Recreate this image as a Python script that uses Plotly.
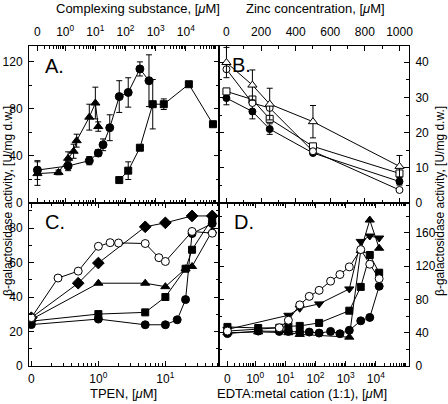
import plotly.graph_objects as go

# ---------------- data ----------------
# Panel A: complexing substance (uM, 0 = control)
A_tri_x = [0, 0.6, 1.25, 1.9, 2.4, 6.3, 10, 12.5]
A_tri_y = [25, 26, 38, 44, 53, 73, 85, 65]
A_tri_e = [10, 2, 5.5, 6, 5.5, 11, 13.5, 4]
A_cir_x = [0, 1.25, 6.3, 12.5, 18, 30, 62, 123, 300, 600]
A_cir_y = [28, 31.5, 36, 42.5, 49.5, 64, 90.5, 94, 114, 104]
A_cir_e = [8, 4, 3.5, 3, 5, 11, 13.5, 12.5, 6, 22]
A_sq_x = [62, 123, 300, 800, 1860, 12600, 79400]
A_sq_y = [19.5, 27.5, 47, 84, 84, 101, 67]
A_sq_e = [0, 7.5, 0, 21, 4.5, 0, 0]

# Panel B: zinc concentration (uM)
B_x = [0, 150, 250, 500, 1000]
B_otri = [39.9, 33.5, 28.1, 23.1, 10.4]
B_otri_e = [4.3, 4.3, 4.5, 4.6, 3.1]
B_ocir = [38, 28.4, 27, 14.7, 3.7]
B_osq = [31.7, 29.4, 23.9, 16.1, 8.4]
B_fcir = [29.8, 26, 21, 14.2, 6.1]
B_fcir_e = [1.9, 2.1, 1.5, 0, 1]

# Panel C: TPEN (uM)
C_ocir_x = [0, 0.25, 0.5, 1, 1.5, 2, 5, 8, 10, 25, 50]
C_ocir_y = [28, 51, 55, 69.4, 71.5, 71.3, 71, 62.8, 60.6, 78, 77]
C_dia_x = [0, 0.5, 1, 5, 10, 25, 50]
C_dia_y = [28, 48, 59.7, 80.7, 83, 87, 87]
C_tri_x = [0, 1, 5, 10, 20, 25, 50]
C_tri_y = [27, 48, 48, 46, 56.4, 57.7, 78.3]
C_sq_x = [0, 1, 5, 10, 20, 25, 50]
C_sq_y = [26, 30.1, 31.1, 40, 56.4, 67.4, 85.5]
C_cir_x = [0, 1, 5, 10, 15, 20, 25, 50]
C_cir_y = [24, 27.2, 23.9, 23.9, 26.8, 38.5, 76.8, 82.6]

# Panel D: EDTA:metal cation (1:1) (uM)
D_ocir_x = [0, 6.3, 12.6, 30, 62, 132, 316, 645, 1320, 3160, 6300, 12900]
D_ocir_y = [42, 46, 55, 73.5, 83.7, 91, 102, 110, 119.2, 140, 122.4, 105]
D_itri_x = [0, 12.6, 30, 132, 1320, 3160, 6300, 12900]
D_itri_y = [44, 61, 69.4, 74.7, 92.7, 149.8, 156.3, 153.9]
D_tri_x = [0, 1.26, 12.6, 30, 1320, 3160, 6300, 12900]
D_tri_y = [40, 41, 40, 38, 34.7, 138.8, 175.5, 141.6]
D_sq_x = [0, 1.26, 6.3, 12.6, 30, 132, 1320, 3160, 6300, 12900]
D_sq_y = [47, 45.7, 46, 47.8, 48.2, 51.8, 66.5, 95.1, 133.5, 112.2]
D_cir_x = [0, 1.26, 6.3, 12.6, 30, 62, 132, 316, 645, 1320, 3160, 6300, 12900]
D_cir_y = [39, 42, 41.6, 41.6, 40.8, 40.8, 39.6, 41.6, 38.8, 42.9, 54.3, 58.4, 95.9]

ZERO_AD = 10 ** -0.92   # where "0" is drawn on the log axes of A and D
ZERO_C = 0.1            # where "0" is drawn on the log axis of C

LOG_TICKS = [ZERO_AD, 1, 10, 100, 1000, 10000]
LOG_TEXT = ["0", "10<sup>0</sup>", "10<sup>1</sup>", "10<sup>2</sup>",
            "10<sup>3</sup>", "10<sup>4</sup>"]
C_TICKS = [ZERO_C, 1, 10]
C_TEXT = ["0", "10<sup>0</sup>", "10<sup>1</sup>"]


def zpos(xs, z):
    return [z if v == 0 else v for v in xs]


FONT = "Liberation Sans, Arial, sans-serif"
fig = go.Figure()


def add(x, y, xa, ya, symbol, fill, size, err=None):
    tr = dict(x=x, y=y, xaxis=xa, yaxis=ya, mode="lines+markers",
              line=dict(color="black", width=1),
              marker=dict(symbol=symbol, color=fill, size=size,
                          line=dict(color="black", width=1)),
              showlegend=False, hoverinfo="skip")
    if err is not None:
        tr["error_y"] = dict(type="data", array=err, color="black",
                             thickness=1, width=3)
    fig.add_trace(go.Scatter(**tr))


# A
add(zpos(A_tri_x, ZERO_AD), A_tri_y, "x", "y", "triangle-up", "black", 8, A_tri_e)
add(zpos(A_cir_x, ZERO_AD), A_cir_y, "x", "y", "circle", "black", 8, A_cir_e)
add(zpos(A_sq_x, ZERO_AD), A_sq_y, "x", "y", "square", "black", 7, A_sq_e)
# B
add(B_x, B_fcir, "x2", "y2", "circle", "black", 7, B_fcir_e)
add(B_x, B_osq, "x2", "y2", "square", "white", 7)
add(B_x, B_ocir, "x2", "y2", "circle", "white", 7)
add(B_x, B_otri, "x2", "y2", "triangle-up", "white", 8, B_otri_e)
# C
add(zpos(C_cir_x, ZERO_C), C_cir_y, "x3", "y3", "circle", "black", 8)
add(zpos(C_sq_x, ZERO_C), C_sq_y, "x3", "y3", "square", "black", 7)
add(zpos(C_tri_x, ZERO_C), C_tri_y, "x3", "y3", "triangle-up", "black", 8)
add(zpos(C_dia_x, ZERO_C), C_dia_y, "x3", "y3", "diamond", "black", 9)
add(zpos(C_ocir_x, ZERO_C), C_ocir_y, "x3", "y3", "circle", "white", 8)
# D
add(zpos(D_cir_x, ZERO_AD), D_cir_y, "x4", "y4", "circle", "black", 8)
add(zpos(D_sq_x, ZERO_AD), D_sq_y, "x4", "y4", "square", "black", 7)
add(zpos(D_tri_x, ZERO_AD), D_tri_y, "x4", "y4", "triangle-up", "black", 8)
add(zpos(D_itri_x, ZERO_AD), D_itri_y, "x4", "y4", "triangle-down", "black", 8)
add(zpos(D_ocir_x, ZERO_AD), D_ocir_y, "x4", "y4", "circle", "white", 8)

minor_ad = [k * 10.0 ** e for e in range(-1, 5) for k in range(2, 10)] + [1e5]
minor_c = [k * 10.0 ** e for e in range(-1, 2) for k in range(2, 10)]

common = dict(showline=True, linecolor="black", linewidth=1, mirror="allticks",
              ticks="inside", ticklen=5, tickcolor="black", showgrid=False,
              zeroline=False, automargin=False,
              tickfont=dict(family=FONT, size=12, color="black"))

ytop = (366 - 203) / 320

fig.update_layout(
    width=448, height=404,
    margin=dict(l=29, r=39, t=46, b=38),
    paper_bgcolor="white", plot_bgcolor="white",
    font=dict(family=FONT, size=12, color="black"),
    xaxis=dict(domain=[0, 0.5], anchor="y", side="top", type="log",
               range=[-1.2, 5.1], tickmode="array", tickvals=LOG_TICKS,
               ticktext=LOG_TEXT, ticklabelstandoff=4,
               minor=dict(tickmode="array", tickvals=minor_ad, ticks="inside",
                          ticklen=3, tickcolor="black"), **common),
    yaxis=dict(domain=[ytop, 1], anchor="x", side="left", range=[0, 133.5],
               tick0=0, dtick=40, ticklabelstandoff=3,
               minor=dict(dtick=20, ticks="inside", ticklen=3, tickcolor="black"),
               **common),
    xaxis2=dict(domain=[0.5, 1], anchor="y2", side="top", range=[-43, 1055],
                tick0=0, dtick=200, ticklabelstandoff=4,
                minor=dict(dtick=100, ticks="inside", ticklen=3, tickcolor="black"),
                **common),
    yaxis2=dict(domain=[ytop, 1], anchor="x2", side="right", range=[0, 44.6],
                tick0=0, dtick=10, ticklabelstandoff=3,
                minor=dict(dtick=5, ticks="inside", ticklen=3, tickcolor="black"),
                **common),
    xaxis3=dict(domain=[0, 0.5], anchor="y3", side="bottom", type="log",
                range=[-1.035, 1.80], tickmode="array", tickvals=C_TICKS,
                ticktext=C_TEXT, ticklabelstandoff=2,
                minor=dict(tickmode="array", tickvals=minor_c, ticks="inside",
                           ticklen=3, tickcolor="black"), **common),
    yaxis3=dict(domain=[0, ytop], anchor="x3", side="left", range=[0, 94.5],
                tick0=0, dtick=20, ticklabelstandoff=3,
                minor=dict(dtick=10, ticks="inside", ticklen=3, tickcolor="black"),
                **common),
    xaxis4=dict(domain=[0.5, 1], anchor="y4", side="bottom", type="log",
                range=[-1.2, 5.1], tickmode="array", tickvals=LOG_TICKS,
                ticktext=LOG_TEXT, ticklabelstandoff=2,
                minor=dict(tickmode="array", tickvals=minor_ad, ticks="inside",
                           ticklen=3, tickcolor="black"), **common),
    yaxis4=dict(domain=[0, ytop], anchor="x4", side="right", range=[0, 196],
                tick0=0, dtick=40, ticklabelstandoff=3,
                minor=dict(dtick=20, ticks="inside", ticklen=3, tickcolor="black"),
                **common),
)


def px(x):
    return (x - 29) / 380


def py(y):
    return (366 - y) / 320


ann = []
for txt, x, y in [("A.", 43, 53), ("B.", 230, 52), ("C.", 43, 209), ("D.", 232, 209)]:
    ann.append(dict(text=txt, x=px(x), y=py(y), xref="paper", yref="paper",
                    xanchor="left", yanchor="top", showarrow=False,
                    font=dict(family=FONT, size=20, color="black")))
for txt, x, y in [("Complexing substance, [<i>μ</i>M]", 138, 8),
                  ("Zinc concentration, [<i>μ</i>M]", 315, 8),
                  ("TPEN, [<i>μ</i>M]", 123, 393),
                  ("EDTA:metal cation (1:1), [<i>μ</i>M]", 302, 393)]:
    ann.append(dict(text=txt, x=px(x), y=py(y), xref="paper", yref="paper",
                    xanchor="center", yanchor="middle", showarrow=False,
                    font=dict(family=FONT, size=13, color="black")))
for x in (8, 440):
    ann.append(dict(text="β-galactosidase activity, [U/mg d.w.]", x=px(x), y=py(201),
                    xref="paper", yref="paper", xanchor="center", yanchor="middle",
                    textangle=-90, showarrow=False,
                    font=dict(family=FONT, size=12, color="black")))
fig.update_layout(annotations=ann)

# remove the browser's default page margin so the figure sits at the window's corner
fig.write_html("out.html", config={"displayModeBar": False},
               post_script="document.body.style.margin='0px';")
